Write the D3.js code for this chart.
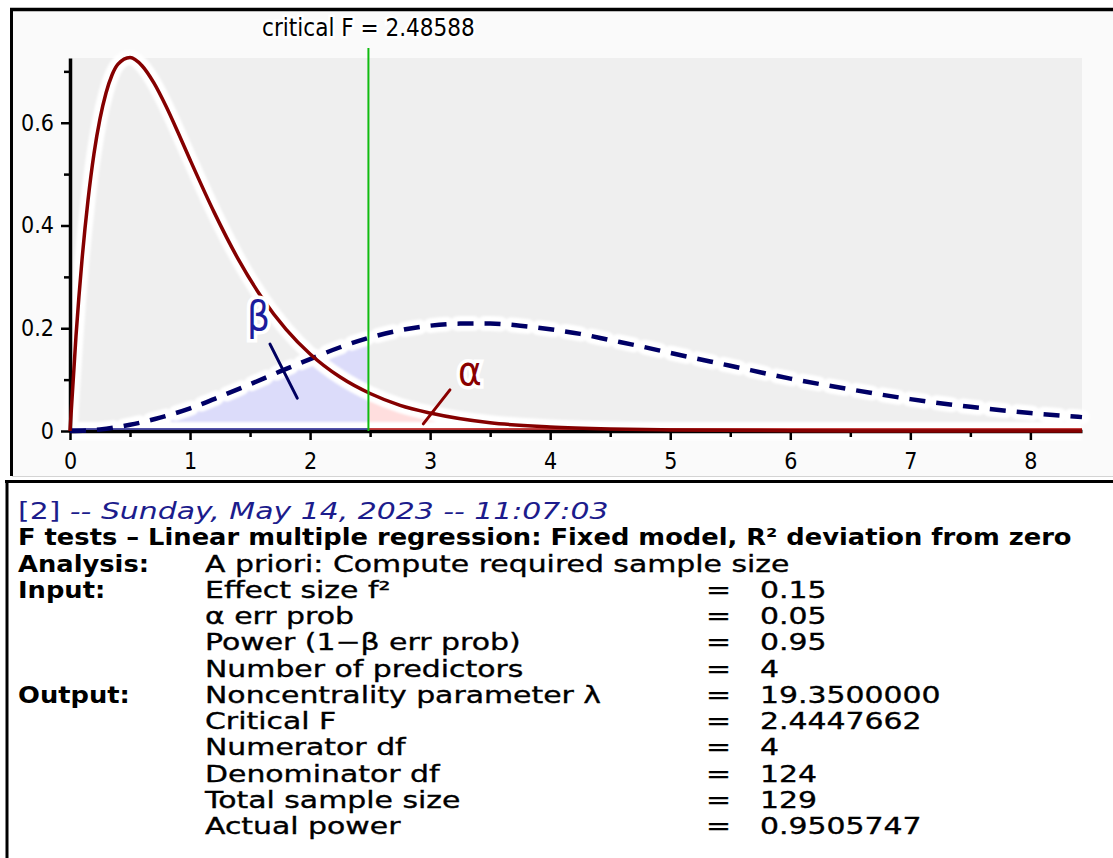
<!DOCTYPE html>
<html>
<head>
<meta charset="utf-8">
<script src="https://cdn.jsdelivr.net/npm/d3@7"></script>
<style>
  body { margin: 0; background: #fff; }
  svg { display: block; }
  .plot text { font-family: "DejaVu Sans Condensed", "DejaVu Sans", sans-serif; font-stretch: condensed; }
  .report text { font-family: "DejaVu Sans", sans-serif; }
</style>
</head>
<body>
<div id="root"></div>
<script>
// central F density (H0)
const fX = [0, 0.05, 0.1, 0.15, 0.2, 0.25, 0.3, 0.35, 0.4, 0.5, 0.6, 0.7, 0.8, 0.9, 1.0, 1.2, 1.4, 1.6, 1.8, 2.0, 2.25, 2.5, 2.75, 3.0, 3.5, 4.0, 4.5, 5.0, 6.0, 7.0, 8.0, 8.43]
const fY = [0, 0.185, 0.333, 0.449, 0.540, 0.608, 0.658, 0.693, 0.714, 0.727, 0.711, 0.677, 0.632, 0.581, 0.528, 0.426, 0.335, 0.259, 0.198, 0.150, 0.105, 0.073, 0.050, 0.035, 0.016, 0.008, 0.004, 0.002, 0.0004, 0.0001, 0, 0]

// noncentral F density (H1), dashed
const ncX = [0, 0.25, 0.5, 0.75, 1.0, 1.25, 1.5, 1.75, 2.0, 2.25, 2.5, 2.75, 3.0, 3.25, 3.5, 3.75, 4.0, 4.25, 4.5, 4.75, 5.0, 5.5, 6.0, 6.5, 7.0, 7.5, 8.0, 8.43]
const ncY = [0, 0.003, 0.012, 0.026, 0.044, 0.067, 0.091, 0.116, 0.140, 0.163, 0.182, 0.196, 0.205, 0.209, 0.209, 0.205, 0.198, 0.189, 0.177, 0.165, 0.152, 0.127, 0.102, 0.081, 0.062, 0.047, 0.035, 0.027]

const critF = 2.48588
const xMax = 8.43, yMax = 0.726

const xMajor = [0, 1, 2, 3, 4, 5, 6, 7, 8]
const xMinor = [0.5, 1.5, 2.5, 3.5, 4.5, 5.5, 6.5, 7.5]
const yMajor = [0, 0.2, 0.4, 0.6]
const yLabels = ["0", "0.2", "0.4", "0.6"]
const yMinor = [0.1, 0.3, 0.5, 0.7]

// report text
const runTag = "[2]"
const runDate = " -- Sunday, May 14, 2023 -- 11:07:03"
const testTitle = "F tests \u2013 Linear multiple regression: Fixed model, R\u00b2 deviation from zero"
const rowLabels = ["Analysis:", "Input:", "", "", "", "Output:", "", "", "", "", ""]
const rowNames = ["A priori: Compute required sample size", "Effect size f\u00b2", "\u03b1 err prob", "Power (1\u2212\u03b2 err prob)",
  "Number of predictors", "Noncentrality parameter \u03bb", "Critical F", "Numerator df", "Denominator df", "Total sample size", "Actual power"]
const rowValues = ["", "0.15", "0.05", "0.95", "4", "19.3500000", "2.4447662", "4", "124", "129", "0.9505747"]

const W = 1113, H = 858

const svg = d3.select('#root').append('svg')
  .attr('width', W).attr('height', H)

const defs = svg.append('defs')
defs.append('filter').attr('id', 'soft')
  .attr('filterUnits', 'userSpaceOnUse')
  .attr('x', 0).attr('y', 0).attr('width', W).attr('height', H)
  .append('feGaussianBlur').attr('stdDeviation', 1.2)

const x = d3.scaleLinear().domain([0, xMax]).range([70, 1082])
const y = d3.scaleLinear().domain([0, yMax]).range([431, 58])

// top panel frame
svg.append('rect').attr('x', 12).attr('y', 10).attr('width', W - 12).attr('height', 466).attr('fill', '#fafafa')
svg.append('path').attr('d', `M10,9.5H${W}`).attr('stroke', '#000').attr('stroke-width', 3.5)
svg.append('path').attr('d', 'M11.5,8V476').attr('stroke', '#000').attr('stroke-width', 3)
svg.append('path').attr('d', `M12,476.5H${W}`).attr('stroke', '#d4d4d4').attr('stroke-width', 1)

// bottom panel frame
svg.append('path').attr('d', `M5,481.5H${W}`).attr('stroke', '#000').attr('stroke-width', 3)
svg.append('path').attr('d', `M7,480V${H}`).attr('stroke', '#000').attr('stroke-width', 3)

const plot = svg.append('g').attr('class', 'plot')

plot.append('rect')
  .attr('x', x(0) + 1.5).attr('y', y(yMax))
  .attr('width', x(xMax) - x(0) - 1.5).attr('height', y(0) - y(yMax))
  .attr('fill', '#efefef')

const central = fX.map((v, i) => [v, fY[i]])
const noncentral = ncX.map((v, i) => [v, ncY[i]])

defs.append('clipPath').attr('id', 'clipBeta').append('rect')
  .attr('x', x(0)).attr('y', 0).attr('width', x(critF) - x(0)).attr('height', y(0))
defs.append('clipPath').attr('id', 'clipAlpha').append('rect')
  .attr('x', x(critF)).attr('y', 0).attr('width', x(xMax) - x(critF)).attr('height', y(0))

const area = d3.area()
  .x(d => x(d[0])).y0(y(0)).y1(d => y(d[1]))
  .curve(d3.curveMonotoneX)
const line = d3.line()
  .x(d => x(d[0])).y(d => y(d[1]))
  .curve(d3.curveMonotoneX)

plot.append('path').attr('d', area(noncentral)).attr('fill', '#dcdcfa').attr('clip-path', 'url(#clipBeta)')
plot.append('path').attr('d', area(central)).attr('fill', '#ffdede').attr('clip-path', 'url(#clipAlpha)')

// white glow behind the curves and along the baseline
const glow = plot.append('g').attr('filter', 'url(#soft)')
glow.append('path').attr('d', `M${x(0)},${y(0)}H${x(xMax)}`)
  .attr('stroke', '#fff').attr('stroke-width', 18)
glow.append('path').attr('d', line(noncentral))
  .attr('fill', 'none').attr('stroke', '#fff').attr('stroke-width', 15)
  .attr('stroke-dasharray', '16 11').attr('stroke-linecap', 'round')
glow.append('path').attr('d', line(central))
  .attr('fill', 'none').attr('stroke', '#fff').attr('stroke-width', 15)

// axes
plot.append('g').attr('transform', `translate(${x(0)},0)`)
  .call(d3.axisLeft(y).tickValues(yMajor).tickFormat((d, i) => yLabels[i]).tickSize(9).tickSizeOuter(0).tickPadding(7))
plot.append('g').attr('transform', `translate(${x(0)},0)`)
  .call(d3.axisLeft(y).tickValues(yMinor).tickFormat('').tickSize(6))
  .select('.domain').remove()

plot.append('g').attr('transform', `translate(0,${y(0)})`)
  .call(d3.axisBottom(x).tickValues(xMajor).tickFormat(d3.format('d')).tickSize(9).tickSizeOuter(0).tickPadding(13))
plot.append('g').attr('transform', `translate(0,${y(0)})`)
  .call(d3.axisBottom(x).tickValues(xMinor).tickFormat('').tickSize(6))
  .select('.domain').remove()

plot.selectAll('.domain').attr('stroke', '#000').attr('stroke-width', 3.5)
plot.selectAll('.tick line').attr('stroke', '#000').attr('stroke-width', 2.5)
plot.selectAll('.tick text').attr('font-size', 23).attr('fill', '#000')
  .attr('font-family', null)

// region edges on the baseline
plot.append('path').attr('d', `M${x(0)},${y(0) - 2}H${x(critF)}`).attr('stroke', '#1a1a8a').attr('stroke-width', 1.5)
plot.append('path').attr('d', `M${x(critF)},${y(0) - 2}H${x(xMax)}`).attr('stroke', '#b00000').attr('stroke-width', 1.5)

// curves
plot.append('path').attr('d', line(noncentral))
  .attr('fill', 'none').attr('stroke', '#000066').attr('stroke-width', 4.5)
  .attr('stroke-dasharray', '16 11')
plot.append('path').attr('d', line(central))
  .attr('fill', 'none').attr('stroke', '#850000').attr('stroke-width', 3.5)

// critical value
plot.append('line')
  .attr('x1', x(critF)).attr('x2', x(critF))
  .attr('y1', y(yMax) - 10).attr('y2', y(0))
  .attr('stroke', '#10bb10').attr('stroke-width', 2)

plot.append('text')
  .attr('x', x(critF)).attr('y', 36)
  .attr('text-anchor', 'middle').attr('font-size', 24)
  .attr('paint-order', 'stroke').attr('stroke', '#fff').attr('stroke-width', 5)
  .text(`critical F = ${critF}`)

// beta / alpha annotations (data units)
const notes = [
  { sym: '\u03b2', color: '#1c1c9c', lineColor: '#000060', at: [1.57, 0.196], from: [1.666, 0.169], to: [1.893, 0.064] },
  { sym: '\u03b1', color: '#8a0000', lineColor: '#8a0000', at: [3.33, 0.09], from: [3.165, 0.08], to: [2.943, 0.014] }
]
notes.forEach(n => {
  plot.append('line')
    .attr('x1', x(n.from[0])).attr('y1', y(n.from[1]))
    .attr('x2', x(n.to[0])).attr('y2', y(n.to[1]))
    .attr('stroke', n.lineColor).attr('stroke-width', 3).attr('stroke-linecap', 'round')
  plot.append('text')
    .attr('x', x(n.at[0])).attr('y', y(n.at[1]))
    .attr('text-anchor', 'middle').attr('font-size', 40)
    .attr('fill', n.color)
    .attr('paint-order', 'stroke').attr('stroke', '#fff').attr('stroke-width', 7)
    .text(n.sym)
})

// report
const rep = svg.append('g').attr('class', 'report')
const kReg = 1.3, kBold = 1.12
const base = 519, step = 26.25
const colLabel = 18, colName = 205, colEq = 706, colVal = 760

const put = (tx, ty, str, bold) => {
  rep.append('text')
    .attr('transform', `translate(${tx},${ty}) scale(${bold ? kBold : kReg},1)`)
    .attr('font-size', 23)
    .attr('fill', '#000')
    .attr('stroke', bold ? null : '#000').attr('stroke-width', bold ? null : 0.35)
    .attr('font-weight', bold ? 'bold' : null)
    .text(str)
}

const head = rep.append('text')
  .attr('transform', `translate(${colLabel},${base}) scale(${kReg},1)`)
  .attr('font-size', 23).attr('fill', '#1c1c8c')
head.append('tspan').text(runTag)
head.append('tspan').attr('font-style', 'italic').text(runDate)

put(colLabel, base + step, testTitle, true)

rowNames.forEach((name, i) => {
  const ty = base + step * (i + 2)
  if (rowLabels[i]) put(colLabel, ty, rowLabels[i], true)
  put(colName, ty, name)
  if (rowValues[i]) {
    put(colEq, ty, '=')
    put(colVal, ty, rowValues[i])
  }
})
</script>
</body>
</html>
